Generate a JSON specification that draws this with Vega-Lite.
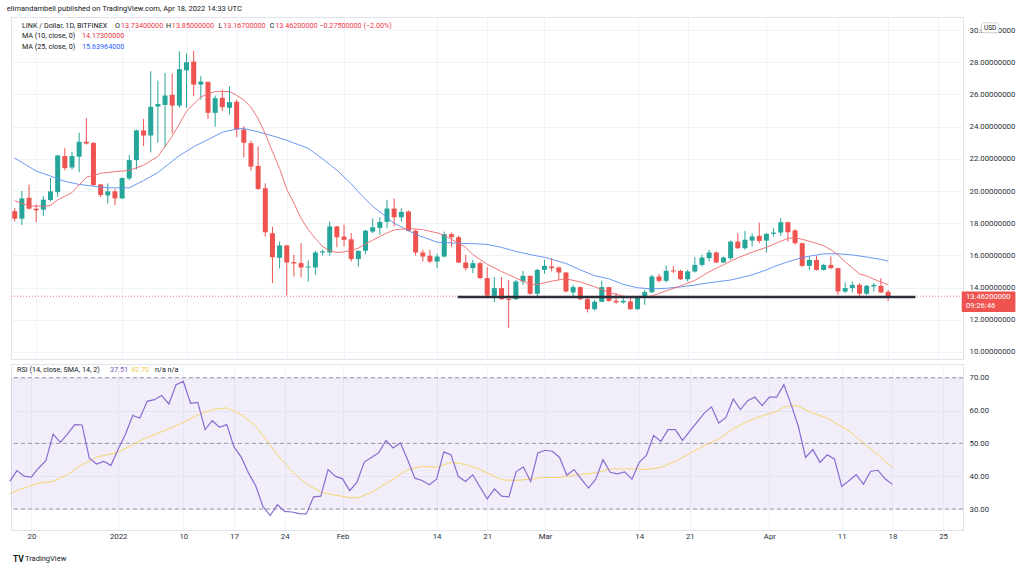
{
  "$schema": "https://vega.github.io/schema/vega-lite/v6.json",
  "background": "#ffffff",
  "padding": {"left": 6, "top": 4, "right": 0, "bottom": 0},
  "title": {"text": "elimandambell published on TradingView.com, Apr 18, 2022 14:33 UTC", "anchor": "start", "font": "Roboto", "fontSize": 7.5, "fontWeight": "normal", "color": "#131722", "offset": 4.5},
  "config": {
    "view": {"stroke": "#e0e3eb"},
    "font": "Roboto",
    "axis": {"labelFont": "Roboto", "labelFontSize": 7.8, "labelColor": "#2a2e39", "gridColor": "#f0f3fa", "domainColor": "#e0e3eb", "ticks": false, "labelOverlap": false, "labelBound": false, "labelFlush": false}
  },
  "spacing": 3,
  "datasets": {
    "candles": [
      {"d":"2021-12-17","o":18.75,"h":18.95,"l":18.1,"c":18.28},
      {"d":"2021-12-18","o":18.28,"h":20.0,"l":17.89,"c":19.54},
      {"d":"2021-12-19","o":19.58,"h":20.4,"l":18.85,"c":18.9},
      {"d":"2021-12-20","o":18.9,"h":19.17,"l":18.07,"c":18.8},
      {"d":"2021-12-21","o":18.84,"h":19.69,"l":18.44,"c":19.46},
      {"d":"2021-12-22","o":19.44,"h":20.82,"l":19.36,"c":19.98},
      {"d":"2021-12-23","o":19.93,"h":22.25,"l":19.65,"c":22.21},
      {"d":"2021-12-24","o":22.17,"h":22.66,"l":21.28,"c":21.42},
      {"d":"2021-12-25","o":21.46,"h":22.44,"l":21.33,"c":22.17},
      {"d":"2021-12-26","o":22.13,"h":23.62,"l":21.17,"c":23.06},
      {"d":"2021-12-27","o":23.06,"h":24.55,"l":22.89,"c":22.95},
      {"d":"2021-12-28","o":22.98,"h":23.05,"l":20.3,"c":20.37},
      {"d":"2021-12-29","o":20.41,"h":20.45,"l":19.62,"c":19.75},
      {"d":"2021-12-30","o":19.73,"h":20.47,"l":19.23,"c":19.98},
      {"d":"2021-12-31","o":19.98,"h":20.14,"l":19.11,"c":19.54},
      {"d":"2022-01-01","o":19.54,"h":20.85,"l":19.5,"c":20.8},
      {"d":"2022-01-02","o":20.78,"h":22.23,"l":20.66,"c":21.92},
      {"d":"2022-01-03","o":21.92,"h":23.82,"l":21.34,"c":23.76},
      {"d":"2022-01-04","o":23.76,"h":24.48,"l":22.79,"c":23.45},
      {"d":"2022-01-05","o":23.45,"h":27.44,"l":22.4,"c":25.23},
      {"d":"2022-01-06","o":25.25,"h":26.86,"l":23.0,"c":25.41},
      {"d":"2022-01-07","o":25.35,"h":27.34,"l":22.73,"c":25.93},
      {"d":"2022-01-08","o":25.97,"h":27.3,"l":23.57,"c":25.31},
      {"d":"2022-01-09","o":25.31,"h":28.68,"l":25.17,"c":27.57},
      {"d":"2022-01-10","o":27.5,"h":28.54,"l":25.17,"c":28.0},
      {"d":"2022-01-11","o":28.04,"h":28.72,"l":25.89,"c":26.61},
      {"d":"2022-01-12","o":26.61,"h":27.13,"l":25.68,"c":26.8},
      {"d":"2022-01-13","o":26.78,"h":26.8,"l":24.48,"c":24.86},
      {"d":"2022-01-14","o":24.86,"h":25.93,"l":23.99,"c":25.77},
      {"d":"2022-01-15","o":25.79,"h":26.3,"l":24.96,"c":25.21},
      {"d":"2022-01-16","o":25.17,"h":26.51,"l":24.75,"c":25.52},
      {"d":"2022-01-17","o":25.54,"h":25.68,"l":23.35,"c":23.82},
      {"d":"2022-01-18","o":23.82,"h":24.03,"l":22.1,"c":23.0},
      {"d":"2022-01-19","o":22.97,"h":23.13,"l":21.27,"c":21.52},
      {"d":"2022-01-20","o":21.56,"h":22.76,"l":20.07,"c":20.13},
      {"d":"2022-01-21","o":20.17,"h":20.48,"l":17.17,"c":17.44},
      {"d":"2022-01-22","o":17.38,"h":17.79,"l":14.28,"c":15.89},
      {"d":"2022-01-23","o":15.85,"h":16.86,"l":15.19,"c":16.62},
      {"d":"2022-01-24","o":16.62,"h":16.66,"l":13.51,"c":15.56},
      {"d":"2022-01-25","o":15.58,"h":16.04,"l":14.69,"c":15.5},
      {"d":"2022-01-26","o":15.52,"h":16.76,"l":14.63,"c":15.25},
      {"d":"2022-01-27","o":15.25,"h":15.69,"l":14.38,"c":15.31},
      {"d":"2022-01-28","o":15.25,"h":16.29,"l":14.8,"c":16.18},
      {"d":"2022-01-29","o":16.18,"h":16.35,"l":16.0,"c":16.25},
      {"d":"2022-01-30","o":16.18,"h":18.1,"l":15.98,"c":17.8},
      {"d":"2022-01-31","o":17.8,"h":17.84,"l":16.51,"c":17.13},
      {"d":"2022-02-01","o":17.17,"h":17.9,"l":16.55,"c":16.97},
      {"d":"2022-02-02","o":17.0,"h":17.38,"l":15.62,"c":15.77},
      {"d":"2022-02-03","o":15.77,"h":16.3,"l":15.31,"c":16.29},
      {"d":"2022-02-04","o":16.29,"h":17.59,"l":16.08,"c":17.53},
      {"d":"2022-02-05","o":17.48,"h":18.31,"l":17.38,"c":17.75},
      {"d":"2022-02-06","o":17.71,"h":18.37,"l":17.28,"c":18.08},
      {"d":"2022-02-07","o":18.08,"h":19.45,"l":17.69,"c":18.91},
      {"d":"2022-02-08","o":18.91,"h":19.53,"l":17.8,"c":18.37},
      {"d":"2022-02-09","o":18.37,"h":18.93,"l":18.1,"c":18.7},
      {"d":"2022-02-10","o":18.73,"h":18.79,"l":17.49,"c":17.53},
      {"d":"2022-02-11","o":17.53,"h":17.59,"l":15.98,"c":16.18},
      {"d":"2022-02-12","o":16.18,"h":16.35,"l":15.62,"c":15.93},
      {"d":"2022-02-13","o":15.98,"h":16.35,"l":15.52,"c":15.62},
      {"d":"2022-02-14","o":15.62,"h":16.1,"l":15.21,"c":15.93},
      {"d":"2022-02-15","o":15.93,"h":17.48,"l":15.87,"c":17.32},
      {"d":"2022-02-16","o":17.32,"h":17.42,"l":16.55,"c":17.13},
      {"d":"2022-02-17","o":17.13,"h":17.22,"l":15.52,"c":15.56},
      {"d":"2022-02-18","o":15.56,"h":16.04,"l":15.06,"c":15.21},
      {"d":"2022-02-19","o":15.21,"h":15.72,"l":14.9,"c":15.52},
      {"d":"2022-02-20","o":15.52,"h":15.6,"l":14.53,"c":14.59},
      {"d":"2022-02-21","o":14.59,"h":15.27,"l":13.49,"c":13.51},
      {"d":"2022-02-22","o":13.49,"h":14.65,"l":13.08,"c":13.97},
      {"d":"2022-02-23","o":13.97,"h":14.65,"l":13.24,"c":13.28},
      {"d":"2022-02-24","o":13.3,"h":14.48,"l":11.5,"c":13.24},
      {"d":"2022-02-25","o":13.28,"h":14.48,"l":13.24,"c":14.38},
      {"d":"2022-02-26","o":14.38,"h":15.04,"l":14.17,"c":14.73},
      {"d":"2022-02-27","o":14.73,"h":14.75,"l":13.55,"c":13.62},
      {"d":"2022-02-28","o":13.62,"h":15.17,"l":13.35,"c":15.1},
      {"d":"2022-03-01","o":15.1,"h":15.72,"l":14.86,"c":15.35},
      {"d":"2022-03-02","o":15.31,"h":15.83,"l":15.0,"c":15.21},
      {"d":"2022-03-03","o":15.25,"h":15.31,"l":14.48,"c":14.94},
      {"d":"2022-03-04","o":14.94,"h":14.96,"l":13.7,"c":13.76},
      {"d":"2022-03-05","o":13.7,"h":14.17,"l":13.45,"c":14.03},
      {"d":"2022-03-06","o":14.03,"h":14.07,"l":13.24,"c":13.28},
      {"d":"2022-03-07","o":13.28,"h":13.35,"l":12.46,"c":12.66},
      {"d":"2022-03-08","o":12.66,"h":13.24,"l":12.56,"c":13.12},
      {"d":"2022-03-09","o":13.12,"h":14.44,"l":13.1,"c":14.03},
      {"d":"2022-03-10","o":14.03,"h":14.05,"l":13.12,"c":13.18},
      {"d":"2022-03-11","o":13.18,"h":13.66,"l":13.0,"c":13.08},
      {"d":"2022-03-12","o":13.08,"h":13.45,"l":13.0,"c":13.18},
      {"d":"2022-03-13","o":13.14,"h":13.45,"l":12.62,"c":12.66},
      {"d":"2022-03-14","o":12.66,"h":13.47,"l":12.62,"c":13.45},
      {"d":"2022-03-15","o":13.45,"h":13.86,"l":12.93,"c":13.72},
      {"d":"2022-03-16","o":13.72,"h":14.79,"l":13.66,"c":14.69},
      {"d":"2022-03-17","o":14.69,"h":14.86,"l":14.32,"c":14.42},
      {"d":"2022-03-18","o":14.42,"h":15.35,"l":14.32,"c":15.04},
      {"d":"2022-03-19","o":15.06,"h":15.35,"l":14.9,"c":15.0},
      {"d":"2022-03-20","o":15.04,"h":15.1,"l":14.48,"c":14.52},
      {"d":"2022-03-21","o":14.52,"h":15.1,"l":14.38,"c":15.0},
      {"d":"2022-03-22","o":15.0,"h":15.89,"l":14.94,"c":15.41},
      {"d":"2022-03-23","o":15.41,"h":16.04,"l":15.31,"c":15.87},
      {"d":"2022-03-24","o":15.83,"h":16.35,"l":15.62,"c":16.18},
      {"d":"2022-03-25","o":16.18,"h":16.24,"l":15.52,"c":15.56},
      {"d":"2022-03-26","o":15.56,"h":15.93,"l":15.52,"c":15.87},
      {"d":"2022-03-27","o":15.83,"h":16.93,"l":15.72,"c":16.86},
      {"d":"2022-03-28","o":16.86,"h":17.38,"l":16.39,"c":16.45},
      {"d":"2022-03-29","o":16.45,"h":17.52,"l":16.35,"c":16.97},
      {"d":"2022-03-30","o":16.92,"h":17.38,"l":16.55,"c":17.17},
      {"d":"2022-03-31","o":17.21,"h":18.04,"l":16.76,"c":16.9},
      {"d":"2022-04-01","o":16.92,"h":17.38,"l":16.18,"c":17.34},
      {"d":"2022-04-02","o":17.34,"h":17.69,"l":17.17,"c":17.42},
      {"d":"2022-04-03","o":17.42,"h":18.31,"l":17.21,"c":18.06},
      {"d":"2022-04-04","o":18.06,"h":18.1,"l":16.86,"c":17.44},
      {"d":"2022-04-05","o":17.55,"h":17.63,"l":16.66,"c":16.76},
      {"d":"2022-04-06","o":16.76,"h":16.78,"l":15.27,"c":15.35},
      {"d":"2022-04-07","o":15.35,"h":15.93,"l":15.1,"c":15.72},
      {"d":"2022-04-08","o":15.72,"h":15.97,"l":15.06,"c":15.1},
      {"d":"2022-04-09","o":15.1,"h":15.48,"l":15.06,"c":15.41},
      {"d":"2022-04-10","o":15.41,"h":15.93,"l":15.15,"c":15.21},
      {"d":"2022-04-11","o":15.21,"h":15.23,"l":13.55,"c":13.76},
      {"d":"2022-04-12","o":13.76,"h":14.32,"l":13.66,"c":13.97},
      {"d":"2022-04-13","o":13.97,"h":14.38,"l":13.7,"c":14.17},
      {"d":"2022-04-14","o":14.17,"h":14.28,"l":13.35,"c":13.62},
      {"d":"2022-04-15","o":13.62,"h":14.17,"l":13.55,"c":14.11},
      {"d":"2022-04-16","o":14.07,"h":14.28,"l":13.76,"c":14.17},
      {"d":"2022-04-17","o":14.11,"h":14.59,"l":13.66,"c":13.7},
      {"d":"2022-04-18","o":13.734,"h":13.85,"l":13.167,"c":13.462}
    ],
    "ma10": [
      {"d":"2021-12-17","v":19.4},{"d":"2021-12-19","v":19.07},{"d":"2021-12-21","v":19.05},{"d":"2021-12-22","v":19.1},
      {"d":"2021-12-23","v":19.45},{"d":"2021-12-25","v":19.9},{"d":"2021-12-27","v":20.85},{"d":"2021-12-29","v":21.1},
      {"d":"2021-12-31","v":21.2},{"d":"2022-01-02","v":21.28},{"d":"2022-01-04","v":21.6},{"d":"2022-01-06","v":22.15},
      {"d":"2022-01-08","v":23.4},{"d":"2022-01-10","v":24.95},{"d":"2022-01-12","v":25.85},{"d":"2022-01-14","v":26.18},
      {"d":"2022-01-16","v":26.18},{"d":"2022-01-17","v":25.95},{"d":"2022-01-18","v":25.65},{"d":"2022-01-19","v":25.2},
      {"d":"2022-01-20","v":24.5},{"d":"2022-01-21","v":23.55},{"d":"2022-01-22","v":22.45},{"d":"2022-01-23","v":21.4},
      {"d":"2022-01-24","v":20.1},{"d":"2022-01-25","v":19.25},{"d":"2022-01-26","v":18.3},{"d":"2022-01-27","v":17.6},
      {"d":"2022-01-28","v":17.05},{"d":"2022-01-29","v":16.55},{"d":"2022-01-30","v":16.3},{"d":"2022-01-31","v":16.18},
      {"d":"2022-02-01","v":16.22},{"d":"2022-02-02","v":16.32},{"d":"2022-02-03","v":16.45},{"d":"2022-02-05","v":16.95},
      {"d":"2022-02-07","v":17.4},{"d":"2022-02-08","v":17.58},{"d":"2022-02-10","v":17.68},{"d":"2022-02-12","v":17.6},
      {"d":"2022-02-14","v":17.4},{"d":"2022-02-15","v":17.25},{"d":"2022-02-16","v":17.0},{"d":"2022-02-17","v":16.75},
      {"d":"2022-02-18","v":16.5},{"d":"2022-02-19","v":16.05},{"d":"2022-02-21","v":15.45},{"d":"2022-02-23","v":15.0},
      {"d":"2022-02-25","v":14.6},{"d":"2022-02-27","v":14.2},{"d":"2022-02-28","v":14.2},{"d":"2022-03-02","v":14.4},
      {"d":"2022-03-04","v":14.55},{"d":"2022-03-06","v":14.35},{"d":"2022-03-08","v":14.05},{"d":"2022-03-10","v":13.7},
      {"d":"2022-03-12","v":13.47},{"d":"2022-03-14","v":13.38},{"d":"2022-03-16","v":13.48},{"d":"2022-03-18","v":13.8},
      {"d":"2022-03-20","v":14.1},{"d":"2022-03-22","v":14.45},{"d":"2022-03-24","v":14.98},{"d":"2022-03-26","v":15.42},
      {"d":"2022-03-28","v":15.85},{"d":"2022-03-30","v":16.2},{"d":"2022-04-01","v":16.5},{"d":"2022-04-03","v":16.88},
      {"d":"2022-04-04","v":17.05},{"d":"2022-04-05","v":17.1},{"d":"2022-04-06","v":17.0},{"d":"2022-04-08","v":16.75},
      {"d":"2022-04-09","v":16.6},{"d":"2022-04-10","v":16.35},{"d":"2022-04-11","v":16.04},{"d":"2022-04-12","v":15.6},
      {"d":"2022-04-13","v":15.22},{"d":"2022-04-14","v":14.85},{"d":"2022-04-15","v":14.72},{"d":"2022-04-16","v":14.52},
      {"d":"2022-04-17","v":14.35},{"d":"2022-04-18","v":14.17}
    ],
    "ma25": [
      {"d":"2021-12-17","v":22.05},{"d":"2021-12-20","v":21.24},{"d":"2021-12-22","v":20.93},{"d":"2021-12-24","v":20.6},
      {"d":"2021-12-26","v":20.41},{"d":"2021-12-28","v":20.3},{"d":"2021-12-30","v":20.2},{"d":"2022-01-02","v":20.2},
      {"d":"2022-01-04","v":20.65},{"d":"2022-01-06","v":21.15},{"d":"2022-01-07","v":21.5},{"d":"2022-01-09","v":22.2},
      {"d":"2022-01-11","v":22.75},{"d":"2022-01-13","v":23.2},{"d":"2022-01-15","v":23.65},{"d":"2022-01-17","v":23.86},
      {"d":"2022-01-18","v":23.88},{"d":"2022-01-20","v":23.68},{"d":"2022-01-22","v":23.43},{"d":"2022-01-24","v":23.15},
      {"d":"2022-01-27","v":22.65},{"d":"2022-01-29","v":22.0},{"d":"2022-01-31","v":21.3},{"d":"2022-02-02","v":20.45},
      {"d":"2022-02-03","v":19.95},{"d":"2022-02-05","v":19.05},{"d":"2022-02-08","v":18.0},{"d":"2022-02-11","v":17.31},
      {"d":"2022-02-14","v":16.82},{"d":"2022-02-17","v":16.75},{"d":"2022-02-19","v":16.73},{"d":"2022-02-21","v":16.68},
      {"d":"2022-02-23","v":16.5},{"d":"2022-02-25","v":16.25},{"d":"2022-02-27","v":16.05},{"d":"2022-03-01","v":15.88},
      {"d":"2022-03-02","v":15.76},{"d":"2022-03-04","v":15.5},{"d":"2022-03-06","v":15.1},{"d":"2022-03-08","v":14.74},
      {"d":"2022-03-10","v":14.55},{"d":"2022-03-12","v":14.2},{"d":"2022-03-14","v":13.99},{"d":"2022-03-16","v":13.92},
      {"d":"2022-03-18","v":13.96},{"d":"2022-03-20","v":14.04},{"d":"2022-03-22","v":14.16},{"d":"2022-03-24","v":14.3},
      {"d":"2022-03-27","v":14.47},{"d":"2022-03-30","v":14.79},{"d":"2022-04-01","v":15.1},{"d":"2022-04-02","v":15.3},
      {"d":"2022-04-04","v":15.6},{"d":"2022-04-06","v":15.87},{"d":"2022-04-07","v":15.95},{"d":"2022-04-09","v":16.1},
      {"d":"2022-04-11","v":16.1},{"d":"2022-04-13","v":16.03},{"d":"2022-04-15","v":15.9},{"d":"2022-04-17","v":15.75},
      {"d":"2022-04-18","v":15.64}
    ],
    "rsi": [
      {"d":"2021-12-17","v":38.4},{"d":"2021-12-18","v":41.7},{"d":"2021-12-19","v":40.0},{"d":"2021-12-20","v":39.75},
      {"d":"2021-12-21","v":42.5},{"d":"2021-12-22","v":44.7},{"d":"2021-12-23","v":52.8},{"d":"2021-12-24","v":50.3},
      {"d":"2021-12-25","v":52.9},{"d":"2021-12-26","v":55.7},{"d":"2021-12-27","v":55.6},{"d":"2021-12-28","v":45.5},
      {"d":"2021-12-29","v":43.7},{"d":"2021-12-30","v":44.5},{"d":"2021-12-31","v":43.3},{"d":"2022-01-01","v":48.3},
      {"d":"2022-01-02","v":52.8},{"d":"2022-01-03","v":58.5},{"d":"2022-01-04","v":57.7},{"d":"2022-01-05","v":62.8},
      {"d":"2022-01-06","v":63.3},{"d":"2022-01-07","v":64.6},{"d":"2022-01-08","v":62.0},{"d":"2022-01-09","v":67.9},
      {"d":"2022-01-10","v":68.9},{"d":"2022-01-11","v":62.2},{"d":"2022-01-12","v":62.5},{"d":"2022-01-13","v":54.2},
      {"d":"2022-01-14","v":56.9},{"d":"2022-01-15","v":54.9},{"d":"2022-01-16","v":55.7},{"d":"2022-01-17","v":48.9},
      {"d":"2022-01-18","v":45.8},{"d":"2022-01-19","v":41.0},{"d":"2022-01-20","v":37.1},{"d":"2022-01-21","v":30.8},
      {"d":"2022-01-22","v":28.0},{"d":"2022-01-23","v":31.3},{"d":"2022-01-24","v":29.3},{"d":"2022-01-25","v":29.1},
      {"d":"2022-01-26","v":28.6},{"d":"2022-01-27","v":28.5},{"d":"2022-01-28","v":33.7},{"d":"2022-01-29","v":33.9},
      {"d":"2022-01-30","v":42.0},{"d":"2022-01-31","v":40.0},{"d":"2022-02-01","v":39.2},{"d":"2022-02-02","v":35.6},
      {"d":"2022-02-03","v":38.2},{"d":"2022-02-04","v":44.3},{"d":"2022-02-05","v":45.7},{"d":"2022-02-06","v":47.1},
      {"d":"2022-02-07","v":50.9},{"d":"2022-02-08","v":48.6},{"d":"2022-02-09","v":50.1},{"d":"2022-02-10","v":45.0},
      {"d":"2022-02-11","v":39.4},{"d":"2022-02-12","v":38.7},{"d":"2022-02-13","v":37.4},{"d":"2022-02-14","v":39.1},
      {"d":"2022-02-15","v":47.4},{"d":"2022-02-16","v":46.5},{"d":"2022-02-17","v":39.9},{"d":"2022-02-18","v":38.4},
      {"d":"2022-02-19","v":40.4},{"d":"2022-02-20","v":36.7},{"d":"2022-02-21","v":33.1},{"d":"2022-02-22","v":36.1},
      {"d":"2022-02-23","v":33.9},{"d":"2022-02-24","v":33.7},{"d":"2022-02-25","v":41.4},{"d":"2022-02-26","v":42.8},
      {"d":"2022-02-27","v":38.4},{"d":"2022-02-28","v":47.1},{"d":"2022-03-01","v":47.9},{"d":"2022-03-02","v":47.6},
      {"d":"2022-03-03","v":45.7},{"d":"2022-03-04","v":40.3},{"d":"2022-03-05","v":42.0},{"d":"2022-03-06","v":39.1},
      {"d":"2022-03-07","v":36.4},{"d":"2022-03-08","v":39.1},{"d":"2022-03-09","v":45.0},{"d":"2022-03-10","v":41.2},
      {"d":"2022-03-11","v":40.7},{"d":"2022-03-12","v":41.3},{"d":"2022-03-13","v":39.1},{"d":"2022-03-14","v":44.2},
      {"d":"2022-03-15","v":46.3},{"d":"2022-03-16","v":52.4},{"d":"2022-03-17","v":50.6},{"d":"2022-03-18","v":54.2},
      {"d":"2022-03-19","v":54.2},{"d":"2022-03-20","v":50.9},{"d":"2022-03-21","v":53.7},{"d":"2022-03-22","v":56.5},
      {"d":"2022-03-23","v":59.2},{"d":"2022-03-24","v":61.1},{"d":"2022-03-25","v":56.2},{"d":"2022-03-26","v":57.9},
      {"d":"2022-03-27","v":63.5},{"d":"2022-03-28","v":60.3},{"d":"2022-03-29","v":63.0},{"d":"2022-03-30","v":64.1},
      {"d":"2022-03-31","v":61.5},{"d":"2022-04-01","v":64.1},{"d":"2022-04-02","v":64.1},{"d":"2022-04-03","v":67.9},
      {"d":"2022-04-04","v":61.8},{"d":"2022-04-05","v":55.2},{"d":"2022-04-06","v":45.7},{"d":"2022-04-07","v":48.1},
      {"d":"2022-04-08","v":44.2},{"d":"2022-04-09","v":46.5},{"d":"2022-04-10","v":45.2},{"d":"2022-04-11","v":36.9},
      {"d":"2022-04-12","v":38.6},{"d":"2022-04-13","v":40.5},{"d":"2022-04-14","v":37.6},{"d":"2022-04-15","v":41.5},
      {"d":"2022-04-16","v":41.8},{"d":"2022-04-17","v":39.2},{"d":"2022-04-18","v":37.51}
    ],
    "rsisma": [
      {"d":"2021-12-17","v":34.7},{"d":"2021-12-19","v":36.4},{"d":"2021-12-21","v":37.9},{"d":"2021-12-23","v":38.4},
      {"d":"2021-12-25","v":40.5},{"d":"2021-12-27","v":43.5},{"d":"2021-12-29","v":45.8},{"d":"2022-01-01","v":47.3},
      {"d":"2022-01-03","v":49.6},{"d":"2022-01-05","v":51.8},{"d":"2022-01-08","v":54.4},{"d":"2022-01-10","v":56.4},
      {"d":"2022-01-12","v":58.6},{"d":"2022-01-14","v":60.3},{"d":"2022-01-16","v":60.8},{"d":"2022-01-18","v":58.8},
      {"d":"2022-01-20","v":55.3},{"d":"2022-01-21","v":52.4},{"d":"2022-01-23","v":46.5},{"d":"2022-01-25","v":41.5},
      {"d":"2022-01-27","v":37.6},{"d":"2022-01-29","v":35.2},{"d":"2022-01-31","v":34.2},{"d":"2022-02-02","v":33.5},
      {"d":"2022-02-03","v":33.4},{"d":"2022-02-05","v":35.0},{"d":"2022-02-06","v":36.4},{"d":"2022-02-08","v":39.1},
      {"d":"2022-02-10","v":42.0},{"d":"2022-02-12","v":43.0},{"d":"2022-02-14","v":42.7},{"d":"2022-02-16","v":44.2},
      {"d":"2022-02-18","v":43.6},{"d":"2022-02-20","v":42.0},{"d":"2022-02-21","v":41.0},{"d":"2022-02-23","v":38.9},
      {"d":"2022-02-25","v":38.7},{"d":"2022-02-27","v":39.1},{"d":"2022-03-01","v":39.6},{"d":"2022-03-03","v":39.6},
      {"d":"2022-03-05","v":40.3},{"d":"2022-03-07","v":40.8},{"d":"2022-03-08","v":41.0},{"d":"2022-03-10","v":42.2},
      {"d":"2022-03-12","v":42.2},{"d":"2022-03-14","v":42.2},{"d":"2022-03-15","v":42.0},{"d":"2022-03-17","v":42.7},
      {"d":"2022-03-19","v":44.5},{"d":"2022-03-21","v":46.9},{"d":"2022-03-23","v":49.3},{"d":"2022-03-25","v":51.3},
      {"d":"2022-03-27","v":54.4},{"d":"2022-03-29","v":56.7},{"d":"2022-03-31","v":58.4},{"d":"2022-04-02","v":59.7},
      {"d":"2022-04-03","v":61.0},{"d":"2022-04-04","v":61.6},{"d":"2022-04-05","v":61.3},{"d":"2022-04-07","v":59.2},
      {"d":"2022-04-09","v":57.7},{"d":"2022-04-10","v":56.4},{"d":"2022-04-12","v":53.7},{"d":"2022-04-14","v":50.1},
      {"d":"2022-04-16","v":46.5},{"d":"2022-04-17","v":44.5},{"d":"2022-04-18","v":42.7}
    ],
    "legend": [
      {"d":"2021-12-18T00:15:00Z","p":30.28,"t":"LINK / Dollar, 1D, BITFINEX","col":"#131722"},
      {"d":"2021-12-31T00:00:00Z","p":30.28,"t":"O","col":"#131722"},
      {"d":"2021-12-31T19:56:00Z","p":30.28,"t":"13.73400000","col":"#f23645"},
      {"d":"2022-01-07T02:56:00Z","p":30.28,"t":"H","col":"#131722"},
      {"d":"2022-01-07T22:50:00Z","p":30.28,"t":"13.85000000","col":"#f23645"},
      {"d":"2022-01-14T10:50:00Z","p":30.28,"t":"L","col":"#131722"},
      {"d":"2022-01-15T03:20:00Z","p":30.28,"t":"13.16700000","col":"#f23645"},
      {"d":"2022-01-21T15:08:00Z","p":30.28,"t":"C","col":"#131722"},
      {"d":"2022-01-22T09:20:00Z","p":30.28,"t":"13.46200000  −0.27500000 (−2.00%)","col":"#f23645"},
      {"d":"2021-12-18T00:15:00Z","p":29.6,"t":"MA (10, close, 0)","col":"#131722"},
      {"d":"2021-12-26T09:40:00Z","p":29.6,"t":"14.17300000","col":"#f23645"},
      {"d":"2021-12-18T00:15:00Z","p":28.94,"t":"MA (25, close, 0)","col":"#131722"},
      {"d":"2021-12-26T09:40:00Z","p":28.94,"t":"15.63964000","col":"#2962ff"}
    ],
    "rsilegend": [
      {"d":"2021-12-18T00:15:00Z","p":72.35,"t":"RSI (14, close, SMA, 14, 2)","col":"#131722"},
      {"d":"2021-12-30T20:45:00Z","p":72.35,"t":"37.51","col":"#7e57c2"},
      {"d":"2022-01-02T18:30:00Z","p":72.35,"t":"42.70","col":"#f2c94c"},
      {"d":"2022-01-06T01:56:00Z","p":72.35,"t":"n/a  n/a","col":"#131722"}
    ]
  },
  "vconcat": [
    {
      "width": 952,
      "height": 342,
      "layer": [
        {
          "data": {"values": [{"p": 13.462}]},
          "mark": {"type": "rule", "color": "#ef5350", "strokeDash": [1, 2], "strokeWidth": 1, "opacity": 0.8},
          "encoding": {
            "y": {"field": "p", "type": "quantitative", "title": null,
              "scale": {"domain": [9.565, 30.81], "nice": false, "zero": false},
              "axis": {"orient": "right", "values": [10, 12, 14, 16, 18, 20, 22, 24, 26, 28, 30], "tickCount": 30, "format": ".8f", "grid": true, "title": null, "labelPadding": 6, "labelAlign": "left", "labelOverlap": false}}
          }
        },
        {
          "data": {"name": "candles"},
          "mark": {"type": "rule", "strokeWidth": 1},
          "encoding": {
            "x": {"field": "d", "type": "temporal", "title": null,
              "scale": {"type": "utc", "domain": [1639714752000, 1651083264000]},
              "axis": {"values": [1639958400000, 1640995200000, 1641772800000, 1642377600000, 1642982400000, 1643673600000, 1644796800000, 1645401600000, 1646092800000, 1647216000000, 1647820800000, 1648771200000, 1649635200000, 1650240000000, 1650844800000], "tickCount": 40, "labels": false, "domain": false, "grid": true, "title": null}},
            "y": {"field": "l", "type": "quantitative", "title": null},
            "y2": {"field": "h"},
            "color": {"condition": {"test": "datum.c >= datum.o", "value": "#26a69a"}, "value": "#ef5350"}
          }
        },
        {
          "data": {"name": "candles"},
          "mark": {"type": "bar", "size": 5},
          "encoding": {
            "x": {"field": "d", "type": "temporal", "title": null},
            "y": {"field": "o", "type": "quantitative", "title": null},
            "y2": {"field": "c"},
            "color": {"condition": {"test": "datum.c >= datum.o", "value": "#26a69a"}, "value": "#ef5350"}
          }
        },
        {
          "data": {"name": "ma25"},
          "mark": {"type": "line", "color": "#5b8def", "strokeWidth": 1, "opacity": 0.9},
          "encoding": {
            "x": {"field": "d", "type": "temporal", "title": null},
            "y": {"field": "v", "type": "quantitative", "title": null}
          }
        },
        {
          "data": {"name": "ma10"},
          "mark": {"type": "line", "color": "#f0676d", "strokeWidth": 1, "opacity": 0.9},
          "encoding": {
            "x": {"field": "d", "type": "temporal", "title": null},
            "y": {"field": "v", "type": "quantitative", "title": null}
          }
        },
        {
          "data": {"values": [{"d1": "2022-02-16T20:50:00Z", "d2": "2022-04-21T19:45:00Z", "p": 13.42}]},
          "mark": {"type": "rule", "color": "#2a2e39", "strokeWidth": 2.5},
          "encoding": {
            "x": {"field": "d1", "type": "temporal", "title": null},
            "x2": {"field": "d2"},
            "y": {"field": "p", "type": "quantitative", "title": null}
          }
        },
        {
          "data": {"name": "legend"},
          "mark": {"type": "text", "align": "left", "baseline": "middle", "fontSize": 7.2, "font": "Roboto"},
          "encoding": {
            "x": {"field": "d", "type": "temporal", "title": null},
            "y": {"field": "p", "type": "quantitative", "title": null},
            "text": {"field": "t"},
            "color": {"field": "col", "type": "nominal", "scale": null}
          }
        },
        {
          "data": {"values": [{"x1": "2022-04-28T06:45:00Z", "x2": "2022-05-05T18:45:00Z", "y1": 13.76, "y2": 12.48}]},
          "mark": {"type": "rect", "color": "#ef5350", "cornerRadius": 1},
          "encoding": {
            "x": {"field": "x1", "type": "temporal", "title": null},
            "x2": {"field": "x2"},
            "y": {"field": "y1", "type": "quantitative", "title": null},
            "y2": {"field": "y2"}
          }
        },
        {
          "data": {"values": [{"d": "2022-04-28T20:55:00Z", "p": 13.416, "t": "13.46200000"}, {"d": "2022-04-28T20:55:00Z", "p": 12.857, "t": "09:26:46"}]},
          "mark": {"type": "text", "align": "left", "baseline": "middle", "fontSize": 7.6, "color": "#ffffff", "font": "Roboto"},
          "encoding": {
            "x": {"field": "d", "type": "temporal", "title": null},
            "y": {"field": "p", "type": "quantitative", "title": null},
            "text": {"field": "t"}
          }
        },
        {
          "data": {"values": [{"x1": "2022-05-01T00:44:00Z", "x2": "2022-05-03T11:20:00Z", "y1": 30.45, "y2": 29.83}]},
          "mark": {"type": "rect", "fill": "#ffffff", "stroke": "#c9ccd4", "strokeWidth": 0.8, "cornerRadius": 2},
          "encoding": {
            "x": {"field": "x1", "type": "temporal", "title": null},
            "x2": {"field": "x2"},
            "y": {"field": "y1", "type": "quantitative", "title": null},
            "y2": {"field": "y2"}
          }
        },
        {
          "data": {"values": [{"d": "2022-05-02T06:00:00Z", "p": 30.14, "t": "USD"}]},
          "mark": {"type": "text", "align": "center", "baseline": "middle", "fontSize": 6.5, "color": "#131722", "font": "Roboto"},
          "encoding": {
            "x": {"field": "d", "type": "temporal", "title": null},
            "y": {"field": "p", "type": "quantitative", "title": null},
            "text": {"field": "t"}
          }
        }
      ]
    },
    {
      "width": 952,
      "height": 166,
      "layer": [
        {
          "data": {"values": [{"a": 70, "b": 30}]},
          "mark": {"type": "rect", "color": "#7e57c2", "opacity": 0.1},
          "encoding": {
            "y": {"field": "a", "type": "quantitative", "title": null,
              "scale": {"domain": [23.61, 74.17], "nice": false, "zero": false},
              "axis": {"orient": "right", "values": [30, 40, 50, 60, 70], "tickCount": 20, "format": ".2f", "grid": true, "title": null, "labelPadding": 6, "labelAlign": "left", "labelOverlap": false}},
            "y2": {"field": "b"}
          }
        },
        {
          "data": {"values": [{"p": 70}, {"p": 50}, {"p": 30}]},
          "mark": {"type": "rule", "color": "#9598a1", "strokeDash": [4, 3], "strokeWidth": 1},
          "encoding": {
            "y": {"field": "p", "type": "quantitative", "title": null}
          }
        },
        {
          "data": {"name": "rsisma"},
          "mark": {"type": "line", "color": "#f6d66b", "strokeWidth": 1},
          "encoding": {
            "x": {"field": "d", "type": "temporal", "title": null,
              "scale": {"type": "utc", "domain": [1639714752000, 1651083264000]},
              "axis": {"values": [1639958400000, 1640995200000, 1641772800000, 1642377600000, 1642982400000, 1643673600000, 1644796800000, 1645401600000, 1646092800000, 1647216000000, 1647820800000, 1648771200000, 1649635200000, 1650240000000, 1650844800000], "tickCount": 40,
                "labelExpr": "utcdate(datum.value) == 1 ? (utcmonth(datum.value) == 0 ? '2022' : utcFormat(datum.value, '%b')) : utcFormat(datum.value, '%d')",
                "labelOverlap": false, "grid": true, "domain": true, "labelPadding": 2, "title": null}},
            "y": {"field": "v", "type": "quantitative", "title": null}
          }
        },
        {
          "data": {"name": "rsi"},
          "mark": {"type": "line", "color": "#8a6bd1", "strokeWidth": 1.2},
          "encoding": {
            "x": {"field": "d", "type": "temporal", "title": null},
            "y": {"field": "v", "type": "quantitative", "title": null}
          }
        },
        {
          "data": {"name": "rsilegend"},
          "mark": {"type": "text", "align": "left", "baseline": "middle", "fontSize": 7.2, "font": "Roboto"},
          "encoding": {
            "x": {"field": "d", "type": "temporal", "title": null},
            "y": {"field": "p", "type": "quantitative", "title": null},
            "text": {"field": "t"},
            "color": {"field": "col", "type": "nominal", "scale": null}
          }
        },
        {
          "data": {"values": [{"d": "2021-12-17T11:00:00Z", "p": 14.78, "t": "TV"}]},
          "mark": {"type": "text", "align": "left", "baseline": "middle", "fontSize": 8.5, "fontWeight": "bold", "color": "#131722", "font": "Roboto"},
          "encoding": {
            "x": {"field": "d", "type": "temporal", "title": null},
            "y": {"field": "p", "type": "quantitative", "title": null},
            "text": {"field": "t"}
          }
        },
        {
          "data": {"values": [{"d": "2021-12-19T02:45:00Z", "p": 14.78, "t": "TradingView"}]},
          "mark": {"type": "text", "align": "left", "baseline": "middle", "fontSize": 7.5, "color": "#131722", "font": "Roboto"},
          "encoding": {
            "x": {"field": "d", "type": "temporal", "title": null},
            "y": {"field": "p", "type": "quantitative", "title": null},
            "text": {"field": "t"}
          }
        }
      ]
    }
  ]
}
